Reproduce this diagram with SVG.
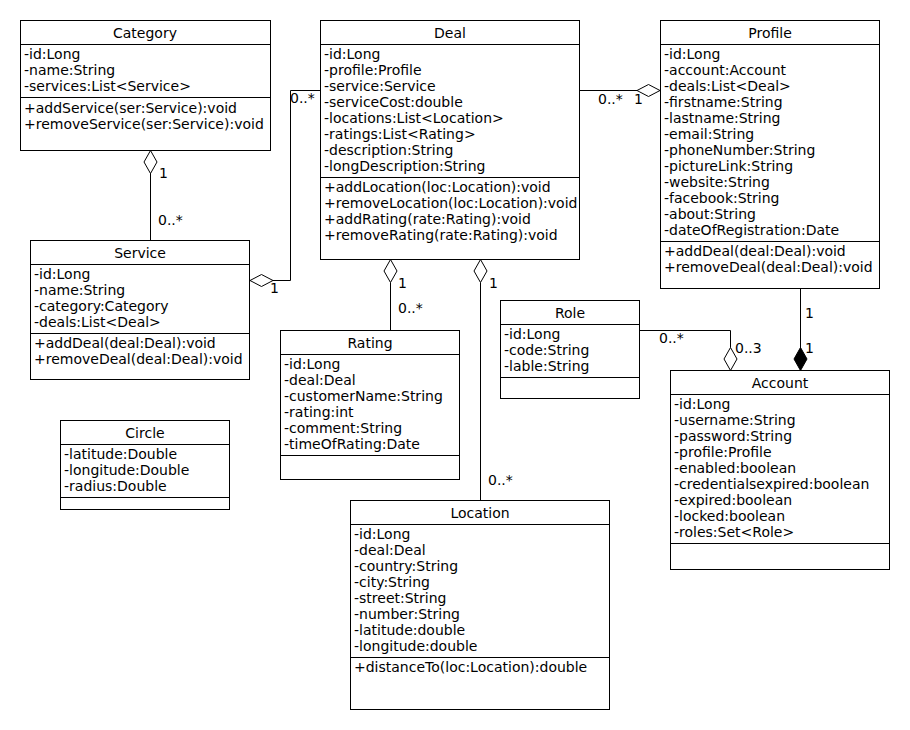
<svg xmlns="http://www.w3.org/2000/svg" width="910" height="730" viewBox="0 0 910 730">
<style>
text{font-family:"DejaVu Sans","Liberation Sans",sans-serif;font-size:14px;fill:#000}
.t{text-anchor:middle}
.box{fill:#fff;stroke:#000;stroke-width:1}
.ln{fill:none;stroke:#000;stroke-width:1}
.od{fill:#fff;stroke:#000;stroke-width:1}
.fd{fill:#000;stroke:#000;stroke-width:1}
</style>
<rect width="910" height="730" fill="#fff"/>
<g id="connectors">
  <line class="ln" x1="150.5" y1="173" x2="150.5" y2="240"/>
  <polygon class="od" points="150.5,150.5 157,162 150.5,173.5 144,162"/>
  <text x="159" y="178">1</text>
  <text x="158" y="225">0..*</text>

  <polyline class="ln" points="320,90.5 290.5,90.5 290.5,280.5 273,280.5"/>
  <polygon class="od" points="250,280.5 261.5,274.5 273,280.5 261.5,286.5"/>
  <text x="290" y="103">0..*</text>
  <text x="270" y="293">1</text>

  <line class="ln" x1="580" y1="90.5" x2="637" y2="90.5"/>
  <polygon class="od" points="660,90.5 648.5,84.5 637,90.5 648.5,96.5"/>
  <text x="598" y="104">0..*</text>
  <text x="634" y="104">1</text>

  <line class="ln" x1="390.5" y1="282.5" x2="390.5" y2="330"/>
  <polygon class="od" points="390.5,259.5 397,271 390.5,282.5 384,271"/>
  <text x="398" y="288">1</text>
  <text x="398" y="313">0..*</text>

  <line class="ln" x1="480.5" y1="282.5" x2="480.5" y2="500"/>
  <polygon class="od" points="480.5,259.5 487,271 480.5,282.5 474,271"/>
  <text x="489" y="288">1</text>
  <text x="488" y="485">0..*</text>

  <polyline class="ln" points="640,330.5 730.5,330.5 730.5,347.5"/>
  <polygon class="od" points="730.5,347.5 737,359 730.5,370.5 724,359"/>
  <text x="659" y="343">0..*</text>
  <text x="735" y="353">0..3</text>

  <line class="ln" x1="800.5" y1="289" x2="800.5" y2="348"/>
  <polygon class="fd" points="800.5,347.5 807,359 800.5,370.5 794,359"/>
  <text x="805" y="318">1</text>
  <text x="805" y="353">1</text>
</g>

<g id="Category">
  <rect class="box" x="20.5" y="20.5" width="250" height="130"/>
  <line class="ln" x1="20.5" y1="44.5" x2="270.5" y2="44.5"/>
  <line class="ln" x1="20.5" y1="97.5" x2="270.5" y2="97.5"/>
  <text class="t" x="145" y="38">Category</text>
  <text x="24" y="59">-id:Long</text>
  <text x="24" y="75">-name:String</text>
  <text x="24" y="91">-services:List&lt;Service&gt;</text>
  <text x="24" y="113">+addService(ser:Service):void</text>
  <text x="24" y="129">+removeService(ser:Service):void</text>
</g>

<g id="Deal">
  <rect class="box" x="320.5" y="20.5" width="259" height="239"/>
  <line class="ln" x1="320.5" y1="44.5" x2="579.5" y2="44.5"/>
  <line class="ln" x1="320.5" y1="177.5" x2="579.5" y2="177.5"/>
  <text class="t" x="450" y="38">Deal</text>
  <text x="324" y="59">-id:Long</text>
  <text x="324" y="75">-profile:Profile</text>
  <text x="324" y="91">-service:Service</text>
  <text x="324" y="107">-serviceCost:double</text>
  <text x="324" y="123">-locations:List&lt;Location&gt;</text>
  <text x="324" y="139">-ratings:List&lt;Rating&gt;</text>
  <text x="324" y="155">-description:String</text>
  <text x="324" y="171">-longDescription:String</text>
  <text x="324" y="192">+addLocation(loc:Location):void</text>
  <text x="324" y="208">+removeLocation(loc:Location):void</text>
  <text x="324" y="224">+addRating(rate:Rating):void</text>
  <text x="324" y="240">+removeRating(rate:Rating):void</text>
</g>

<g id="Profile">
  <rect class="box" x="660.5" y="20.5" width="219" height="268"/>
  <line class="ln" x1="660.5" y1="44.5" x2="879.5" y2="44.5"/>
  <line class="ln" x1="660.5" y1="241.5" x2="879.5" y2="241.5"/>
  <text class="t" x="770" y="38">Profile</text>
  <text x="664" y="59">-id:Long</text>
  <text x="664" y="75">-account:Account</text>
  <text x="664" y="91">-deals:List&lt;Deal&gt;</text>
  <text x="664" y="107">-firstname:String</text>
  <text x="664" y="123">-lastname:String</text>
  <text x="664" y="139">-email:String</text>
  <text x="664" y="155">-phoneNumber:String</text>
  <text x="664" y="171">-pictureLink:String</text>
  <text x="664" y="187">-website:String</text>
  <text x="664" y="203">-facebook:String</text>
  <text x="664" y="219">-about:String</text>
  <text x="664" y="235">-dateOfRegistration:Date</text>
  <text x="664" y="256">+addDeal(deal:Deal):void</text>
  <text x="664" y="272">+removeDeal(deal:Deal):void</text>
</g>

<g id="Service">
  <rect class="box" x="30.5" y="240.5" width="219" height="139"/>
  <line class="ln" x1="30.5" y1="264.5" x2="249.5" y2="264.5"/>
  <line class="ln" x1="30.5" y1="333.5" x2="249.5" y2="333.5"/>
  <text class="t" x="140" y="258">Service</text>
  <text x="34" y="279">-id:Long</text>
  <text x="34" y="295">-name:String</text>
  <text x="34" y="311">-category:Category</text>
  <text x="34" y="327">-deals:List&lt;Deal&gt;</text>
  <text x="34" y="348">+addDeal(deal:Deal):void</text>
  <text x="34" y="364">+removeDeal(deal:Deal):void</text>
</g>

<g id="Rating">
  <rect class="box" x="280.5" y="330.5" width="179" height="149"/>
  <line class="ln" x1="280.5" y1="354.5" x2="459.5" y2="354.5"/>
  <line class="ln" x1="280.5" y1="455.5" x2="459.5" y2="455.5"/>
  <text class="t" x="370" y="348">Rating</text>
  <text x="284" y="369">-id:Long</text>
  <text x="284" y="385">-deal:Deal</text>
  <text x="284" y="401">-customerName:String</text>
  <text x="284" y="417">-rating:int</text>
  <text x="284" y="433">-comment:String</text>
  <text x="284" y="449">-timeOfRating:Date</text>
</g>

<g id="Circle">
  <rect class="box" x="60.5" y="420.5" width="169" height="89"/>
  <line class="ln" x1="60.5" y1="444.5" x2="229.5" y2="444.5"/>
  <line class="ln" x1="60.5" y1="497.5" x2="229.5" y2="497.5"/>
  <text class="t" x="145" y="438">Circle</text>
  <text x="64" y="459">-latitude:Double</text>
  <text x="64" y="475">-longitude:Double</text>
  <text x="64" y="491">-radius:Double</text>
</g>

<g id="Role">
  <rect class="box" x="500.5" y="300.5" width="139" height="98"/>
  <line class="ln" x1="500.5" y1="324.5" x2="639.5" y2="324.5"/>
  <line class="ln" x1="500.5" y1="377.5" x2="639.5" y2="377.5"/>
  <text class="t" x="570" y="318">Role</text>
  <text x="504" y="339">-id:Long</text>
  <text x="504" y="355">-code:String</text>
  <text x="504" y="371">-lable:String</text>
</g>

<g id="Account">
  <rect class="box" x="670.5" y="370.5" width="219" height="199"/>
  <line class="ln" x1="670.5" y1="394.5" x2="889.5" y2="394.5"/>
  <line class="ln" x1="670.5" y1="543.5" x2="889.5" y2="543.5"/>
  <text class="t" x="780" y="388">Account</text>
  <text x="674" y="409">-id:Long</text>
  <text x="674" y="425">-username:String</text>
  <text x="674" y="441">-password:String</text>
  <text x="674" y="457">-profile:Profile</text>
  <text x="674" y="473">-enabled:boolean</text>
  <text x="674" y="489">-credentialsexpired:boolean</text>
  <text x="674" y="505">-expired:boolean</text>
  <text x="674" y="521">-locked:boolean</text>
  <text x="674" y="537">-roles:Set&lt;Role&gt;</text>
</g>

<g id="Location">
  <rect class="box" x="350.5" y="500.5" width="259" height="209"/>
  <line class="ln" x1="350.5" y1="524.5" x2="609.5" y2="524.5"/>
  <line class="ln" x1="350.5" y1="657.5" x2="609.5" y2="657.5"/>
  <text class="t" x="480" y="518">Location</text>
  <text x="354" y="539">-id:Long</text>
  <text x="354" y="555">-deal:Deal</text>
  <text x="354" y="571">-country:String</text>
  <text x="354" y="587">-city:String</text>
  <text x="354" y="603">-street:String</text>
  <text x="354" y="619">-number:String</text>
  <text x="354" y="635">-latitude:double</text>
  <text x="354" y="651">-longitude:double</text>
  <text x="354" y="672">+distanceTo(loc:Location):double</text>
</g>
</svg>
